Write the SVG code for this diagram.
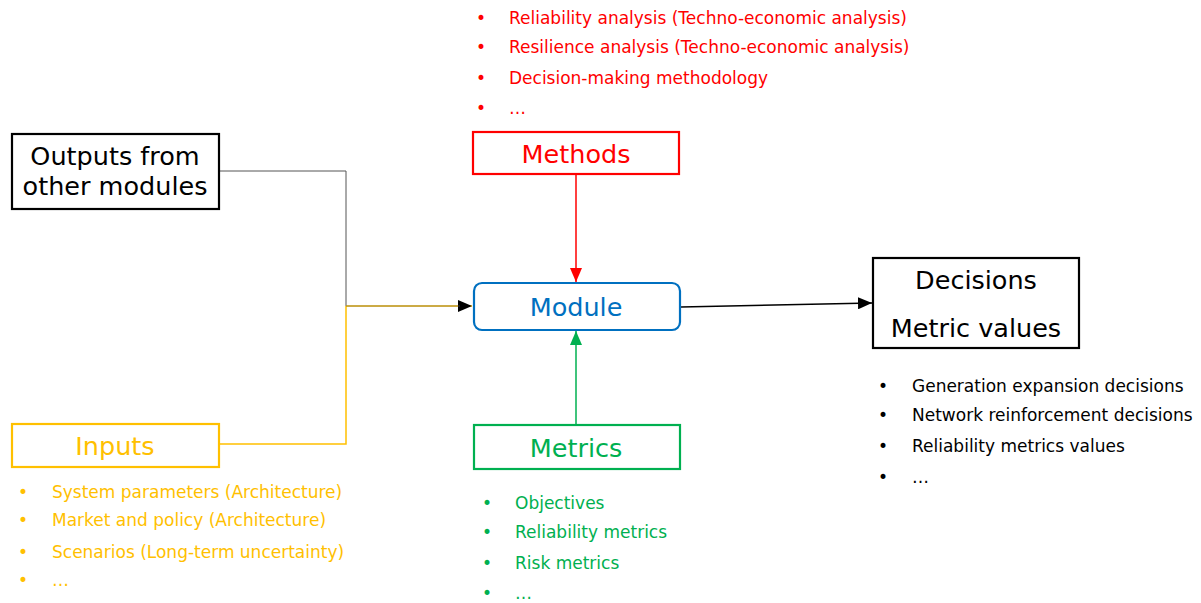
<svg xmlns="http://www.w3.org/2000/svg" width="1201" height="603" viewBox="0 0 1201 603">
<style>
text{font-family:"DejaVu Sans",Verdana,sans-serif}
.box{fill:#fff;stroke-width:2.2}
.big{font-size:25.5px;text-anchor:middle}
.li{font-size:17px}
.red{fill:#FF0000}.grn{fill:#00B050}.yel{fill:#FFC000}.blk{fill:#000}.blu{fill:#0070C0}
</style>
<defs>
<marker id="ab" viewBox="0 0 14 12" refX="14" refY="6" markerWidth="14" markerHeight="12" markerUnits="userSpaceOnUse" orient="auto"><path d="M0,0L14,6L0,12z" fill="#000"/></marker>
<marker id="ar" viewBox="0 0 14 12" refX="14" refY="6" markerWidth="14" markerHeight="12" markerUnits="userSpaceOnUse" orient="auto"><path d="M0,0L14,6L0,12z" fill="#FF0000"/></marker>
<marker id="ag" viewBox="0 0 14 12" refX="14" refY="6" markerWidth="14" markerHeight="12" markerUnits="userSpaceOnUse" orient="auto"><path d="M0,0L14,6L0,12z" fill="#00B050"/></marker>
</defs>
<g id="connectors" fill="none">
<polyline points="219,171 346,171 346,306" stroke="#555" stroke-width="1"/>
<polyline points="219,444 346,444 346,306" stroke="#FFC000" stroke-width="1.5"/>
<line x1="346" y1="306" x2="472" y2="306" stroke="#FFC000" stroke-width="1.5" marker-end="url(#ab)"/>
<line x1="346" y1="306" x2="460" y2="306" stroke="#555" stroke-width="1" opacity="0.6"/>
<line x1="576" y1="174" x2="576" y2="282" stroke="#FF0000" stroke-width="1.5" marker-end="url(#ar)"/>
<line x1="576" y1="425" x2="576" y2="331" stroke="#00B050" stroke-width="1.5" marker-end="url(#ag)"/>
<line x1="681" y1="307" x2="872" y2="303" stroke="#000" stroke-width="1.5" marker-end="url(#ab)"/>
</g>
<g id="outputs">
<rect class="box" x="12" y="134" width="207" height="75" stroke="#000"/>
<text class="big blk" x="115" y="165">Outputs from</text>
<text class="big blk" x="115" y="195">other modules</text>
</g>
<g id="inputs">
<rect class="box" x="12" y="424" width="207" height="43" stroke="#FFC000"/>
<text class="big yel" x="115" y="455">Inputs</text>
<g class="li yel">
<text x="18" y="498">•</text><text x="52" y="498">System parameters (Architecture)</text>
<text x="18" y="526">•</text><text x="52" y="526">Market and policy (Architecture)</text>
<text x="18" y="558">•</text><text x="52" y="558">Scenarios (Long-term uncertainty)</text>
<text x="18" y="586">•</text><text x="52" y="586">…</text>
</g>
</g>
<g id="methods">
<rect class="box" x="473" y="132" width="206" height="42" stroke="#FF0000"/>
<text class="big red" x="576" y="163">Methods</text>
<g class="li red">
<text x="476" y="24">•</text><text x="509" y="24">Reliability analysis (Techno-economic analysis)</text>
<text x="476" y="53">•</text><text x="509" y="53">Resilience analysis (Techno-economic analysis)</text>
<text x="476" y="84">•</text><text x="509" y="84">Decision-making methodology</text>
<text x="476" y="114">•</text><text x="509" y="114">…</text>
</g>
</g>
<g id="module">
<rect class="box" x="474" y="283" width="206" height="47" rx="8" stroke="#0070C0"/>
<text class="big blu" x="576" y="316">Module</text>
</g>
<g id="metrics">
<rect class="box" x="474" y="425" width="206" height="44" stroke="#00B050"/>
<text class="big grn" x="576" y="457">Metrics</text>
<g class="li grn">
<text x="482" y="509">•</text><text x="515" y="509">Objectives</text>
<text x="482" y="538">•</text><text x="515" y="538">Reliability metrics</text>
<text x="482" y="569">•</text><text x="515" y="569">Risk metrics</text>
<text x="482" y="599">•</text><text x="515" y="599">…</text>
</g>
</g>
<g id="decisions">
<rect class="box" x="873" y="258" width="206" height="90" stroke="#000"/>
<text class="big blk" x="976" y="289">Decisions</text>
<text class="big blk" x="976" y="337">Metric values</text>
<g class="li blk">
<text x="878" y="392">•</text><text x="912" y="392">Generation expansion decisions</text>
<text x="878" y="421">•</text><text x="912" y="421">Network reinforcement decisions</text>
<text x="878" y="452">•</text><text x="912" y="452">Reliability metrics values</text>
<text x="878" y="483">•</text><text x="912" y="483">…</text>
</g>
</g>
</svg>
